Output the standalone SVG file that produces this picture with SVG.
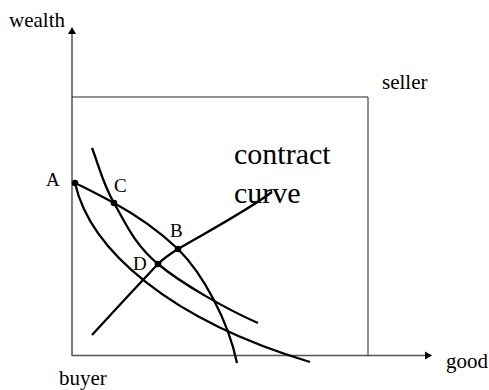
<svg xmlns="http://www.w3.org/2000/svg" width="489" height="390" viewBox="0 0 489 390">
<style>
.lbl{font-family:"Liberation Serif","Times New Roman","DejaVu Serif",serif;font-size:21px;fill:#000}
.pt{font-family:"Liberation Serif","Times New Roman","DejaVu Serif",serif;font-size:19px;fill:#000}
.big{font-family:"Liberation Serif","Times New Roman","DejaVu Serif",serif;font-size:30px;fill:#000}
.axis{stroke:#555;stroke-width:1.5;fill:none}
.box{stroke:#222;stroke-width:1;fill:none}
.crv{stroke:#000;stroke-width:2.3;fill:none}
.dot{fill:#000}
</style>
<rect width="489" height="390" fill="#fff"/>
<g id="axes">
<line class="axis" x1="72" y1="356" x2="72" y2="33"/>
<polygon points="72,27 68,34 76,34" fill="#000"/>
<line class="axis" x1="72" y1="355.5" x2="426" y2="355.5"/>
<polygon points="432,355.5 425,351.5 425,359.5" fill="#000"/>
<text class="lbl" x="9" y="27">wealth</text>
<text class="lbl" x="446" y="368">good</text>
</g>
<g id="box">
<polyline class="box" points="72,97 368,97 368,355.5"/>
<text class="lbl" x="382" y="89">seller</text>
<text class="lbl" x="59" y="385">buyer</text>
</g>
<g id="connectors">
<path id="seller-indiff" class="crv" d="M75,183 C88,189 101,196 114,203 C136,215 160,232 178,249 C203,274 228,320 237,363"/>
<path id="buyer-indiff-1" class="crv" d="M75,183 C90,250 170,320 310,362"/>
<path id="buyer-indiff-2" class="crv" d="M92,148 C99,166 103,184 114,203 C125,222 134,244 158,264 C182,284 228,310 258,323"/>
<path id="contract-curve" class="crv" d="M92,335 C115,310 140,283 158,264 C164,258 170,254 178,249 C205,233 245,212 272,192"/>
</g>
<g id="label-contract">
<text class="big" x="234" y="164">contract</text>
<text class="big" x="234" y="203">curve</text>
</g>
<g id="node-A"><circle class="dot" cx="75" cy="183" r="3.3"/><text class="pt" x="46" y="186">A</text></g>
<g id="node-C"><circle class="dot" cx="114" cy="203" r="3.3"/><text class="pt" x="114" y="192">C</text></g>
<g id="node-B"><circle class="dot" cx="178" cy="249" r="3.3"/><text class="pt" x="170" y="237">B</text></g>
<g id="node-D"><circle class="dot" cx="158" cy="264" r="3.3"/><text class="pt" x="133" y="270">D</text></g>
</svg>
